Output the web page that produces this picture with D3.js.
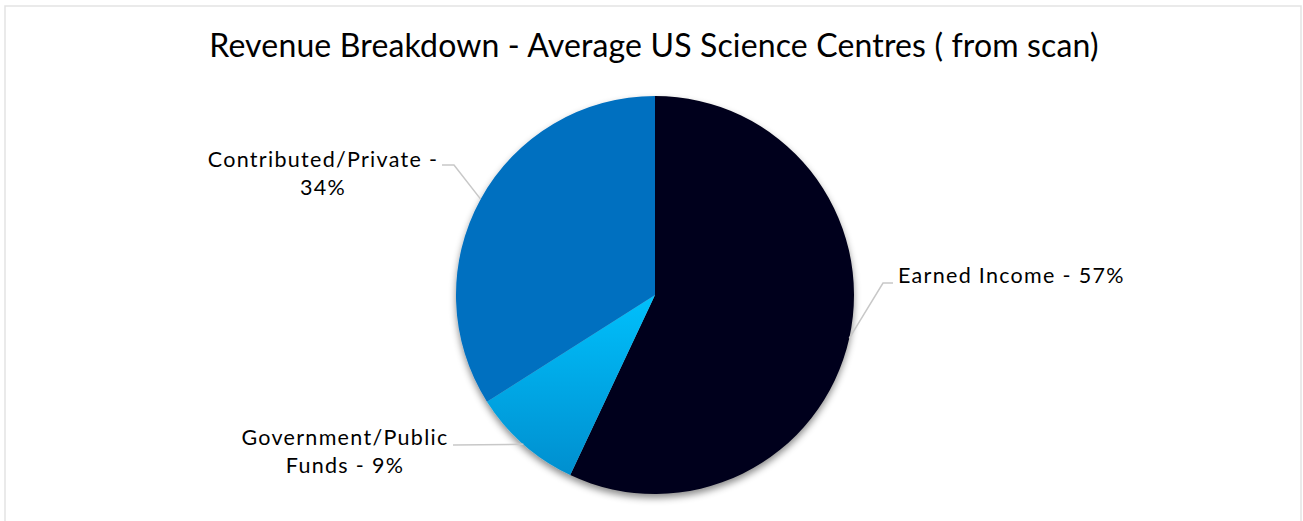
<!DOCTYPE html>
<html>
<head>
<meta charset="utf-8">
<script src="https://cdn.jsdelivr.net/npm/d3@7"></script>
<style>
  body { margin: 0; background: #fff; }
  text { font-family: Lato, "Open Sans", sans-serif; fill: #000; }
</style>
</head>
<body>
<svg id="chart" width="1303" height="521"></svg>
<script>
// Data
const categories = ["Earned Income", "Government/Public Funds", "Contributed/Private"];
const values = [57, 9, 34];
const labelLines = [["Earned Income - 57%"], ["Government/Public", "Funds - 9%"], ["Contributed/Private -", "34%"]];

const width = 1303, height = 521;
const cx = 655, cy = 295, radius = 199;

const svg = d3.select("#chart");

// frame
svg.append("rect")
    .attr("x", 5).attr("y", 6)
    .attr("width", 1296).attr("height", 540)
    .attr("fill", "none")
    .attr("stroke", "#e3e3e3")
    .attr("stroke-width", 1.5);

// title
svg.append("text")
    .attr("x", 654).attr("y", 57)
    .attr("text-anchor", "middle")
    .style("font-size", "32px")
    .style("letter-spacing", "0.15px")
    .text("Revenue Breakdown - Average US Science Centres ( from scan)");

const defs = svg.append("defs");
const shadow = defs.append("filter").attr("id", "shadow")
    .attr("x", "-20%").attr("y", "-20%").attr("width", "140%").attr("height", "140%");
shadow.append("feDropShadow")
    .attr("dx", 0).attr("dy", 4)
    .attr("stdDeviation", 3.5)
    .attr("flood-color", "#000")
    .attr("flood-opacity", 0.45);

const grad = defs.append("linearGradient").attr("id", "govGrad")
    .attr("gradientUnits", "userSpaceOnUse")
    .attr("x1", 0).attr("y1", 0).attr("x2", 0).attr("y2", 180);
grad.append("stop").attr("offset", "0%").attr("stop-color", "#00c0fc");
grad.append("stop").attr("offset", "100%").attr("stop-color", "#008fcf");

const colours = ["#00001a", "url(#govGrad)", "#0070c0"];

const pie = d3.pie().sort(null).value(d => d);
const arcs = pie(values);
const arc = d3.arc().innerRadius(0).outerRadius(radius);

const g = svg.append("g").attr("transform", `translate(${cx},${cy})`);
g.append("g")
    .attr("filter", "url(#shadow)")
    .selectAll("path")
    .data(arcs)
    .enter()
    .append("path")
    .attr("d", arc)
    .attr("fill", (d, i) => colours[i]);

// labels: elbow points and text anchors relative to the page
const labelLayout = [
    {elbow: [[883, 283], [893, 283]], x: 898, y: 283, anchor: "start"},
    {elbow: [[453, 445]], x: 345, y: 445, anchor: "middle"},
    {elbow: [[454, 165], [442, 165]], x: 323, y: 167, anchor: "middle"}
];

const edge = d3.arc().innerRadius(radius).outerRadius(radius);
arcs.forEach((a, i) => {
    const c = edge.centroid(a);
    const pts = [[cx + c[0], cy + c[1]], ...labelLayout[i].elbow];
    svg.append("path")
        .attr("d", d3.line()(pts))
        .attr("fill", "none")
        .attr("stroke", "#c8c8c8")
        .attr("stroke-width", 1.5);

    const t = svg.append("text")
        .attr("x", labelLayout[i].x)
        .attr("y", labelLayout[i].y)
        .attr("text-anchor", labelLayout[i].anchor)
        .style("font-size", "21.5px")
        .style("letter-spacing", "1.3px");
    labelLines[i].forEach((line, j) => {
        t.append("tspan")
            .attr("x", labelLayout[i].x)
            .attr("dy", j === 0 ? 0 : 27.5)
            .text(line);
    });
});
</script>
</body>
</html>
